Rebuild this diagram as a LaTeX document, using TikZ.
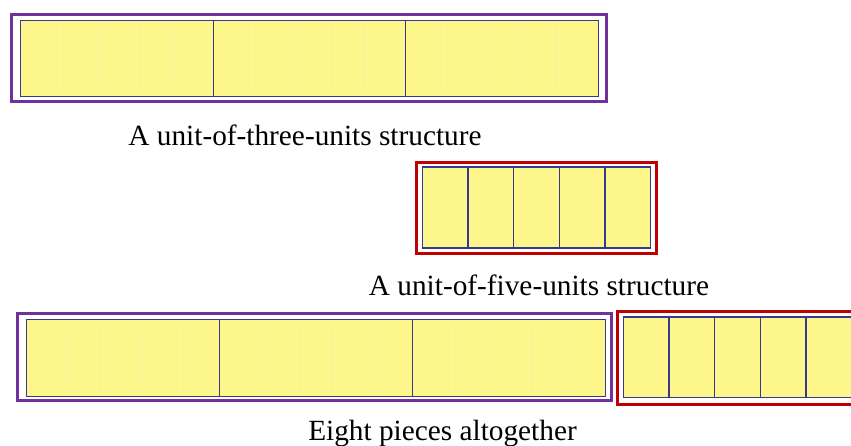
\documentclass[tikz,border=0pt]{standalone}
\usepackage{fontspec}
\setmainfont{Liberation Serif}
\definecolor{barfill}{HTML}{FDF68A}
\definecolor{cellline}{HTML}{38388F}
\definecolor{threeframe}{HTML}{7030A0}
\definecolor{fiveframe}{HTML}{C00000}
\tikzset{
  threebox/.style={draw=threeframe, line width=3pt},
  fivebox/.style={draw=fiveframe, line width=3pt},
  strip/.style={fill=barfill, draw=cellline, line width=1.8pt},
  divider/.style={draw=cellline, line width=1.3pt},
  faint/.style={draw=white, opacity=0.18, line width=1pt},
  caption/.style={anchor=base, inner sep=0pt, font=\fontsize{29.3}{35}\selectfont}
}
\begin{document}
\begin{tikzpicture}[x=1pt, y=-1pt]
\useasboundingbox (0,0) rectangle (851,446);
\clip (0,0) rectangle (851,446);

% unit of three units (top)
\draw[threebox] (11.5,14.5) rectangle (606.5,101.5);
\draw[strip] (20.5,20.5) rectangle (598.5,96.5);
\foreach \k in {1,...,14} {
  \pgfmathsetmacro{\xx}{20.5+\k*578/15}
  \draw[faint] (\xx,21.5) -- (\xx,95.5);
}
\foreach \k in {1,2} {
  \pgfmathsetmacro{\xx}{20.5+\k*578/3}
  \draw[divider] (\xx,20.5) -- (\xx,96.5);
}
\node[caption] (capthree) at (305,145.5) {A unit-of-three-units structure};

% unit of five units (middle)
\draw[fivebox] (416.5,162.5) rectangle (656.5,253.5);
\draw[strip] (422.5,167) rectangle (650.5,248);
\foreach \k in {1,...,4} {
  \pgfmathsetmacro{\xx}{422.5+\k*228/5}
  \draw[divider] (\xx,167) -- (\xx,248);
}
\node[caption] (capfive) at (539,295.5) {A unit-of-five-units structure};

% both structures side by side (bottom)
\draw[threebox] (17.5,313.5) rectangle (611.5,400.5);
\draw[strip] (26.5,319.5) rectangle (605.5,396.5);
\foreach \k in {1,...,14} {
  \pgfmathsetmacro{\xx}{26.5+\k*579/15}
  \draw[faint] (\xx,320.5) -- (\xx,395.5);
}
\foreach \k in {1,2} {
  \pgfmathsetmacro{\xx}{26.5+\k*579/3}
  \draw[divider] (\xx,319.5) -- (\xx,396.5);
}
\draw[fivebox] (617.5,311.5) rectangle (857.5,404);
\draw[strip] (623.5,317) rectangle (851.5,397.5);
\foreach \k in {1,...,4} {
  \pgfmathsetmacro{\xx}{623.5+\k*228/5}
  \draw[divider] (\xx,317) -- (\xx,397.5);
}
\node[caption] (capeight) at (442.5,440) {Eight pieces altogether};
\end{tikzpicture}
\end{document}
